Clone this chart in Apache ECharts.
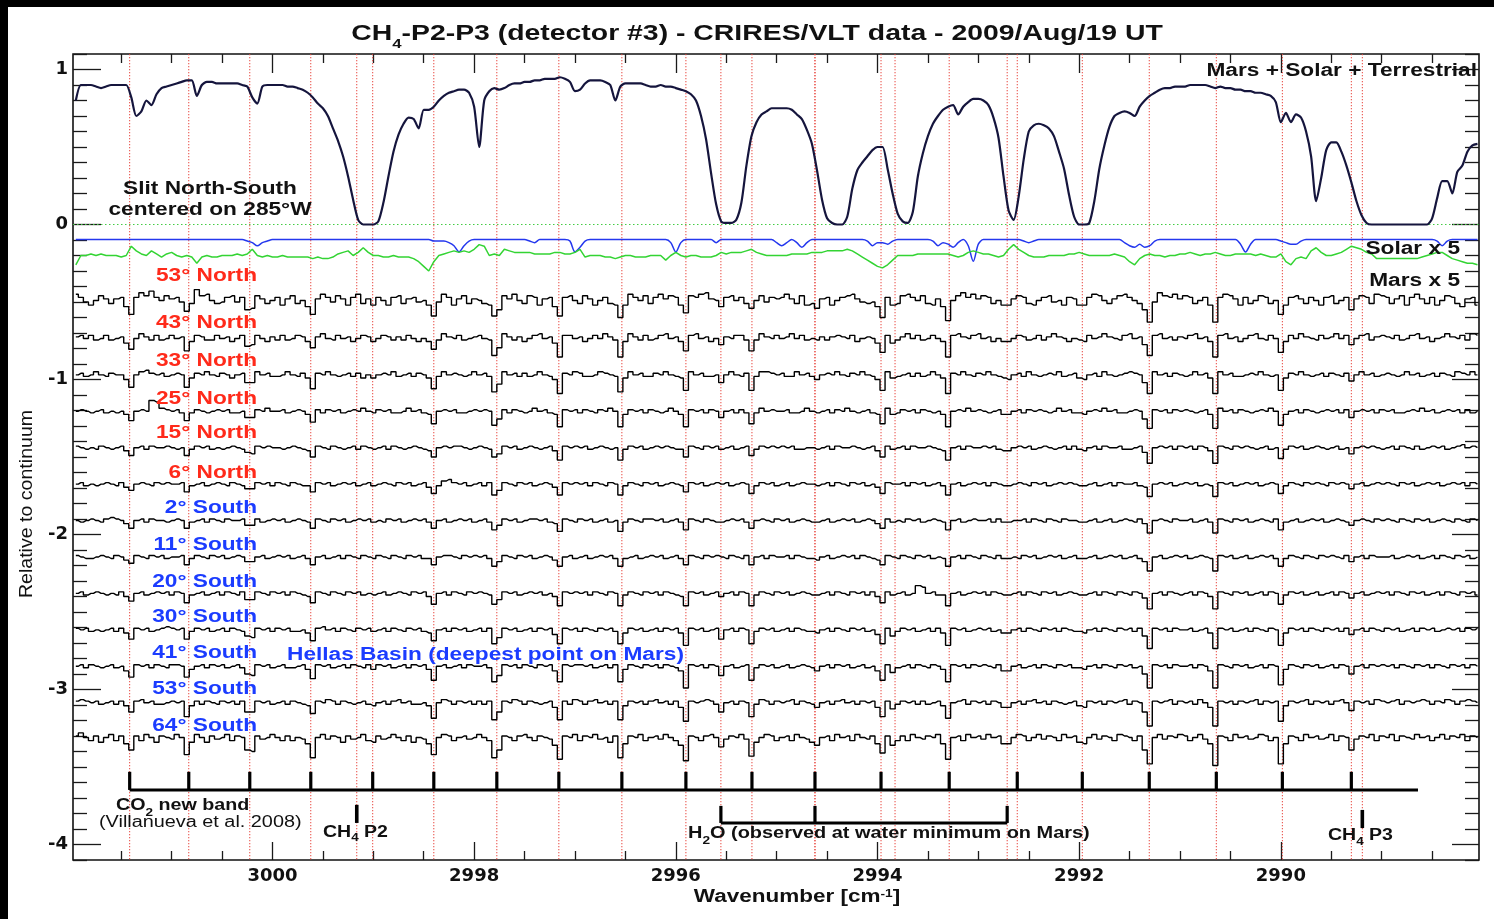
<!DOCTYPE html>
<html>
<head>
<meta charset="utf-8">
<title>CH4-P2-P3 (detector #3) - CRIRES/VLT data - 2009/Aug/19 UT</title>
<script src="https://cdn.jsdelivr.net/npm/echarts@6/dist/echarts.min.js"></script>
<style>
  html, body { margin: 0; padding: 0; background: #fff; }
  #chart { width: 1494px; height: 919px; }
</style>
</head>
<body>
<div id="chart"></div>
<script>
// ---------------------------------------------------------------------------
// Spectral sampling: spectra are binned on a 0.05 cm-1 grid, stored in rows
// of 20 bins (row r, column c  ->  bin 20*r + c, starting at WN_START).
// ---------------------------------------------------------------------------
const ROW = 20;
const WN_START = 3001.95;
const WN_STEP = 0.05;

// Axis extent and tick labels
const X_MIN = 2988.035, X_MAX = 3001.978;
const Y_MIN = -4.1, Y_MAX = 1.1;
const xTickLabels = [3000, 2998, 2996, 2994, 2992, 2990];
const yTickLabels = [1, 0, -1, -2, -3, -4];

// Mars + Solar + Terrestrial transmittance, percent of continuum
const telluricPct = [
  [80,90,90,90,89,88,89,90,90,90,90,82,70,73,80,77,84,88,89,90],
  [91,92,93,93,83,90,92,92,91,91,91,91,91,90,89,82,78,89,90,90],
  [90,90,89,89,88,87,85,82,78,75,70,62,54,44,31,16,3,0,0,0],
  [2,14,31,47,58,65,69,68,62,74,74,76,80,83,85,86,87,87,85,76],
  [50,80,86,88,87,88,90,91,91,92,92,93,93,94,94,94,95,94,92,86],
  [87,91,93,93,93,92,90,80,89,91,91,91,91,90,89,89,90,89,89,88],
  [87,86,84,80,70,55,33,13,2,1,1,3,14,38,57,66,71,73,75,75],
  [75,75,74,71,68,61,52,35,16,4,1,0,0,5,23,35,40,44,48,50],
  [50,36,20,7,2,1,8,31,46,57,65,70,74,76,77,71,76,79,81,81],
  [80,77,69,56,31,9,3,18,42,60,64,65,64,62,57,47,36,19,5,0],
  [0,1,15,36,51,63,70,72,73,72,70,76,80,83,85,87,88,88,89,89],
  [89,90,90,90,90,89,88,89,88,88,87,87,86,86,85,85,84,83,79,66],
  [72,66,71,69,60,44,15,30,48,53,53,47,38,27,15,6,1,0,0,0],
  [0,0,0,0,0,0,0,0,0,4,17,28,28,20,34,38,47,51,52]
];

// Solar spectrum x 5 (hundredths, relative to its own continuum)
const SOLAR_OFFSET = -0.097;
const solarX5 = [
  [0,0,0,0,0,0,0,0,0,0,0,0,0,0,0,0,0,0,0,0],
  [0,0,0,0,0,0,0,0,0,0,0,0,0,0,-1,-2,-4,-2,-1,0],
  [0,0,0,0,0,0,0,0,0,0,0,0,0,0,0,0,0,0,0,0],
  [0,0,0,0,0,0,0,0,0,0,0,-1,-1,-1,-2,-4,-8,-4,-1,0],
  [0,0,0,0,0,0,0,0,0,0,-1,-2,0,0,0,0,0,0,-1,-8],
  [-5,-1,0,0,0,0,0,0,0,0,0,0,0,0,0,0,0,0,-2,-8],
  [-2,0,0,0,0,0,0,-2,0,0,0,0,0,0,0,0,0,0,0,-2],
  [-4,-2,0,-2,-5,-2,0,0,0,0,0,0,0,0,0,0,0,-1,-4,-2],
  [-2,-3,-1,0,0,0,0,0,0,0,-1,-4,-2,-3,-5,-2,0,-4,-14,-3],
  [0,0,0,0,0,0,0,0,-1,-2,-1,0,0,0,0,0,0,0,0,0],
  [0,0,0,0,0,0,0,0,-2,-4,-5,-3,-5,-4,-1,0,0,0,0,0],
  [0,0,0,0,0,0,0,0,0,0,0,-3,-8,-3,0,0,0,0,0,-1],
  [-2,-3,-3,-1,0,0,0,0,0,0,0,0,0,0,0,0,0,0,0,0],
  [0,0,0,0,0,0,0,0,0,0,-1,-4,-1,0,0,0,0,0,0]
];

// Green reference trace (hundredths, relative to -0.20)
const GREEN_OFFSET = -0.20;
const greenTrace = [
  [-6,0,0,1,0,1,0,0,0,-1,0,6,3,1,0,3,1,-1,1,2],
  [0,-1,0,-1,-5,-1,0,-1,-1,0,0,0,1,0,1,4,0,-1,0,-1],
  [-1,0,-1,-1,-1,-1,-1,-2,-1,-2,-2,-1,1,2,3,0,2,5,2,0],
  [0,-1,-1,0,-1,-1,-1,-2,-4,-7,-10,-4,0,1,2,3,2,3,2,4],
  [7,6,0,1,0,4,3,2,2,2,2,1,1,1,1,2,2,1,1,2],
  [4,-1,0,0,0,-1,-1,-2,-1,0,0,-1,-1,-1,0,0,0,-3,0,2],
  [0,-1,0,0,-1,-1,-1,0,2,1,2,2,2,3,4,2,1,0,0,0],
  [0,0,1,1,1,1,2,2,2,3,3,3,3,4,3,1,-1,-3,-5,-7],
  [-8,-6,-3,0,0,0,0,1,1,1,1,1,1,1,0,-1,0,2,3,2],
  [1,1,0,-1,0,4,7,4,2,0,-1,-1,-1,0,0,0,0,1,1,2],
  [1,0,0,0,0,0,1,0,-1,-4,-6,-2,0,1,0,0,-1,0,0,1],
  [1,2,1,0,1,1,2,1,0,0,1,1,1,1,0,1,0,-1,-1,1],
  [-4,-6,-2,-1,-2,3,5,2,0,0,1,2,4,6,5,4,2,1,-2,-2],
  [-2,-2,-2,-2,-2,-2,-2,-1,0,1,2,2,0,-2,-3,-4,-5,-5,-6]
];

// Mars spectra x 5 along the slit (hundredths, relative to continuum)
const mars53N = [
  [4,2,-1,-3,0,3,1,-2,1,2,-4,-9,2,5,3,6,2,0,3,1],
  [2,-1,-7,-2,7,3,4,0,-2,-1,2,3,-1,2,-6,-5,3,1,-2,0],
  [2,-3,1,3,-2,0,-4,-9,1,4,2,-1,3,1,-3,2,4,-2,1,-3],
  [2,0,-3,2,3,-2,1,2,-1,0,-3,-10,-1,4,2,-3,1,3,-2,1],
  [0,-2,-3,-10,-6,3,1,4,0,-2,3,2,-3,1,2,-4,-10,2,3,0],
  [-2,3,1,-3,0,2,-2,-3,-11,-3,4,2,0,3,-2,2,4,1,3,2],
  [-3,-8,3,2,4,5,1,0,-4,2,3,0,2,-2,-5,0,3,-1,2,1],
  [2,4,1,-2,3,-3,-2,-5,1,2,-3,0,2,3,4,1,-1,-2,-1,-4],
  [-11,2,-3,-2,3,4,2,0,3,-2,-3,1,-4,-13,0,3,5,2,4,1],
  [3,2,-2,0,-3,-3,1,3,2,-2,-3,0,2,3,-1,0,-3,2,1,-3],
  [-3,2,4,3,0,-2,1,3,4,2,0,-2,-6,-14,-1,5,3,2,4,1],
  [3,2,-2,0,2,-3,-14,2,4,3,1,-3,2,-2,0,3,2,-2,0,-9],
  [-3,2,3,1,-2,2,0,-3,2,3,-2,0,2,-6,1,3,2,-2,4,3],
  [2,-2,1,3,-3,2,4,1,-2,2,-3,0,3,2,-2,-4,1,2,-3]
];
const mars43N = [
  [1,2,0,2,-1,0,2,-1,0,1,-3,-7,0,3,1,-1,2,-1,0,2],
  [0,1,-8,-2,2,1,-1,-1,2,0,1,-2,0,2,-5,-4,2,0,-2,1],
  [-1,2,-1,0,2,1,-2,-6,1,3,0,-1,2,0,1,-2,0,2,1,-2],
  [0,2,1,-1,1,-1,2,0,-2,0,-2,-7,-1,3,1,0,2,-1,0,1],
  [2,0,-1,-11,-6,3,1,-1,1,-2,0,2,3,0,1,-3,-12,2,2,0],
  [1,-2,0,2,0,3,1,-1,-12,-2,3,1,-1,2,-1,0,2,3,0,1],
  [-2,-8,2,3,0,1,-2,0,-4,1,0,2,2,-1,-8,-1,3,1,0,2],
  [0,1,3,0,2,-1,0,-1,1,-1,1,2,1,0,2,-2,0,1,0,-3],
  [-9,2,-3,-1,1,3,0,2,-1,0,2,0,-2,-12,2,3,1,0,2,3],
  [0,1,-2,0,-2,-2,0,2,1,-1,0,2,-1,1,3,1,0,-2,0,-1],
  [-2,2,0,1,3,1,0,-1,2,3,0,1,-4,-11,2,3,0,1,-1,1],
  [0,2,3,0,1,-2,-12,2,3,0,1,-2,0,2,3,0,-1,2,0,-9],
  [-2,2,0,3,1,0,-1,2,0,1,3,0,2,-4,0,2,3,-1,1,2],
  [1,0,2,-1,0,2,3,0,1,-2,0,1,3,1,0,2,-1,3,2]
];
const mars33N = [
  [0,1,-1,0,2,0,-1,1,0,0,-3,-8,0,2,3,1,0,1,-1,0],
  [1,0,-8,-2,1,0,2,0,-1,1,0,-2,0,1,-5,-5,2,0,1,-1],
  [-1,0,2,0,-1,1,-2,-9,1,0,2,0,-1,0,1,-1,1,-2,0,-2],
  [0,1,0,2,-1,0,1,-1,1,0,-2,-9,-1,2,0,1,0,-1,0,2],
  [0,1,-1,-11,-6,2,0,1,-1,1,-1,0,2,0,-1,-3,-12,1,0,2],
  [1,-1,-1,0,2,1,0,-1,-11,-2,2,0,1,-1,-1,1,0,2,0,-1],
  [-2,-10,2,0,1,-1,-1,0,-5,0,2,0,-1,1,-10,-1,2,2,1,0],
  [1,-1,-1,2,0,1,-1,-3,0,1,0,2,0,-1,1,0,2,0,-1,-3],
  [-10,2,-2,-1,0,1,-1,1,-1,0,2,0,-2,-12,1,0,2,0,-1,1],
  [0,2,0,-1,-2,-3,0,1,-1,2,0,-1,0,1,0,2,-1,0,1,-2],
  [-3,0,1,-1,2,0,-1,0,1,2,1,0,-5,-12,2,0,1,-1,1,0],
  [-1,0,2,0,1,-2,-12,2,0,1,-1,-1,0,1,0,2,0,-1,0,-10],
  [-2,1,0,2,0,-1,0,1,-1,1,0,-1,1,-4,0,2,0,1,-1,0],
  [1,0,-1,0,2,0,1,-1,0,1,-1,1,0,-1,2,1,0,2,0]
];
const mars25N = [
  [0,1,0,-1,0,1,-1,0,-1,0,-2,-6,0,1,0,7,6,2,1,0],
  [1,-1,-6,-1,1,0,-1,0,1,0,1,-1,-1,0,-4,-4,1,0,2,0],
  [0,1,-1,0,1,0,-2,-7,1,-1,1,0,1,-1,0,1,0,2,0,-1],
  [1,0,1,-1,-1,0,2,0,1,-1,-2,-8,0,1,0,1,-1,-1,0,1],
  [0,1,0,-9,-5,1,-1,1,0,-1,0,2,0,1,-1,-2,-10,1,0,1],
  [-1,1,0,-1,1,0,2,0,-10,-2,1,0,1,-1,1,0,-1,0,2,0],
  [-2,-10,1,0,1,-1,1,0,-4,0,1,-1,1,-1,-8,-1,2,0,1,0],
  [0,1,-1,-1,0,2,0,-1,0,1,-1,1,0,2,0,-1,0,1,-1,-2],
  [-8,2,-2,-1,1,0,1,-1,1,0,-1,0,-2,-10,0,1,0,2,0,1],
  [0,-1,0,1,-2,-2,0,1,-1,1,0,1,0,-1,0,2,0,1,-1,-1],
  [-2,0,1,0,2,0,1,-1,-1,0,1,0,-5,-11,1,0,1,-1,1,0],
  [1,0,-1,0,1,-2,-11,2,0,1,-1,1,0,-1,0,1,0,2,0,-9],
  [-2,0,1,-1,1,0,-1,0,1,0,1,-1,1,-4,0,1,0,1,-1,1],
  [0,1,-1,-1,0,1,0,2,0,1,-1,0,1,0,1,-1,1,-1,0]
];
const mars15N = [
  [1,0,-1,0,-1,1,0,-1,0,1,-2,-5,0,1,-1,1,0,0,1,0],
  [-1,0,-5,-1,1,0,1,-1,0,-1,0,1,0,-1,-3,-4,1,0,1,0],
  [0,-1,0,1,0,-1,-2,-6,1,0,-1,1,0,-1,0,1,-1,1,0,-1],
  [0,1,-1,1,0,-1,0,1,0,-1,-2,-6,0,1,0,1,1,0,-1,0],
  [1,0,-1,-6,-4,1,0,1,-1,0,1,0,-1,0,1,-2,-8,1,0,1],
  [0,1,-1,0,1,0,-1,0,-8,-1,1,0,1,-1,0,1,0,1,0,-1],
  [-1,-6,1,0,-1,1,0,1,-1,0,1,-1,0,1,-5,-1,1,0,1,0],
  [1,0,1,-1,-1,0,0,-1,0,1,-1,1,0,0,1,0,-1,0,1,-2],
  [-6,1,-1,0,1,-1,1,0,0,1,0,-1,-2,-8,0,1,-1,1,0,0],
  [1,0,1,-1,-2,-2,0,1,0,1,-1,0,1,0,-1,0,1,-1,1,-1],
  [-2,0,1,-1,1,0,0,1,-1,-1,0,1,-3,-10,0,1,0,1,-1,1],
  [0,1,-1,1,0,-2,-10,1,0,-1,1,0,1,0,-1,0,1,-1,0,-7],
  [-1,1,0,1,-1,0,1,0,-1,0,1,-1,0,-4,0,1,0,1,0,-1],
  [0,1,-1,1,0,-1,1,-1,0,1,0,1,-1,0,1,2,0,1,0]
];
const mars6N = [
  [0,1,-1,0,-1,0,1,0,-1,1,-2,-4,0,1,0,-1,1,0,1,0],
  [0,1,-5,-1,0,1,-1,0,1,0,-1,1,0,-1,-3,-3,1,0,1,-1],
  [1,0,-1,1,0,-1,-1,-5,1,0,1,-1,0,1,0,1,-1,0,1,-1],
  [0,1,0,-1,1,0,1,-1,0,1,-2,-6,-1,2,3,1,0,1,-1,0],
  [1,-1,1,-7,-4,1,0,-1,1,0,1,-1,0,1,0,-2,-7,1,0,1],
  [0,1,-1,1,0,-1,1,0,-7,-1,1,0,-1,1,0,1,-1,0,1,0],
  [-1,-5,1,0,1,-1,0,1,0,1,-1,0,1,0,-6,-1,1,0,1,-1],
  [0,1,-1,0,1,0,0,-1,0,1,-1,1,0,-1,1,0,1,-1,0,-2],
  [-6,1,0,0,1,-1,1,0,1,-1,0,1,-1,-7,0,1,-1,0,1,0],
  [1,-1,1,0,-1,-1,0,1,0,-1,1,0,1,-1,0,1,0,1,0,-1],
  [-1,0,1,-1,0,1,-1,1,0,0,1,-1,-2,-8,0,1,0,1,-1,0],
  [1,0,1,-1,0,-1,-8,1,0,1,-1,0,1,0,1,-1,0,1,0,-6],
  [-1,1,0,-1,1,0,1,0,-1,1,0,1,0,-3,0,1,-1,0,1,0],
  [1,0,-1,1,0,1,-1,0,1,0,1,-1,0,1,0,1,-1,1,0]
];
const mars2S = [
  [0,-1,0,1,0,-1,1,2,1,0,-2,-5,0,1,-1,1,0,0,-1,0],
  [1,0,-5,-1,0,1,-1,1,0,-1,1,0,0,1,-3,-3,1,-1,0,1],
  [0,1,-1,0,1,0,-1,-5,1,0,-1,1,0,1,-1,0,1,0,1,-1],
  [0,-1,1,0,1,-1,0,1,0,1,-1,-5,0,1,-1,0,1,0,1,-1],
  [0,1,-1,-6,-3,1,0,1,-1,0,1,1,0,1,-1,-2,-7,1,0,-1],
  [1,0,1,-1,0,1,-1,0,-7,-1,1,0,-1,1,1,0,1,-1,0,1],
  [-1,-6,1,0,-1,1,0,-1,-1,0,1,0,1,-1,-5,0,1,0,-1,1],
  [0,1,-1,0,1,0,-1,-1,0,1,-1,0,1,0,1,-1,0,1,0,-2],
  [-5,1,-1,0,-1,1,0,1,-1,0,1,0,-1,-6,0,1,-1,0,1,0],
  [0,1,-1,1,-1,-1,0,0,1,-1,1,0,-1,1,0,-1,1,0,0,-1],
  [-1,0,1,-1,0,1,-1,0,1,0,-1,1,-2,-8,0,1,0,-1,1,0],
  [0,1,-1,0,1,-1,-8,1,0,-1,1,0,1,-1,0,1,0,-1,1,-6],
  [-1,0,1,-1,0,1,0,1,-1,0,1,0,-1,-3,0,1,0,-1,1,0],
  [1,0,-1,1,0,-1,1,0,1,-1,0,1,0,-1,1,0,-1,1,0]
];
const mars11S = [
  [1,0,-1,-1,0,1,0,-1,1,0,-2,-4,1,0,-1,1,0,1,-1,0],
  [0,1,-5,-1,1,0,-1,1,0,1,-1,0,1,0,-3,-3,0,1,-1,0],
  [1,0,1,-1,0,1,-1,-5,0,1,-1,0,1,-1,1,0,-1,1,0,-1],
  [1,0,-1,1,0,-1,1,0,1,-1,-1,-5,0,1,1,0,-1,1,0,1],
  [0,1,-1,-6,-3,1,0,-1,1,0,1,-1,0,1,0,-2,-6,0,1,-1],
  [0,1,-1,0,1,0,1,-1,-6,-1,0,1,-1,0,1,0,1,-1,0,1],
  [-1,-5,1,0,-1,1,0,1,0,-1,1,0,-1,1,-5,0,1,-1,1,0],
  [0,1,-1,1,0,-1,-1,-2,0,1,-1,0,1,0,1,-1,1,0,-1,-2],
  [-5,1,0,-1,1,0,-1,1,0,1,-1,0,-1,-6,0,1,-1,1,0,-1],
  [1,0,-1,1,-1,-1,0,-1,1,0,1,-1,0,1,0,1,-1,0,1,-1],
  [-1,0,1,-1,0,1,0,1,-1,0,1,-1,-3,-9,0,1,-1,0,1,0],
  [1,-1,0,1,0,-1,-9,1,0,1,-1,0,1,-1,0,1,0,1,-1,-6],
  [-1,1,0,-1,1,0,-1,1,0,1,0,-1,1,-3,0,1,-1,1,0,0],
  [0,1,-1,0,1,0,1,-1,0,1,-1,1,0,-1,1,0,1,-1,0]
];
const mars20S = [
  [0,1,-1,0,1,0,-1,0,-1,1,-2,-5,0,1,-1,0,1,0,1,-1],
  [1,0,-6,-1,0,1,-1,0,1,-1,1,0,-1,1,-4,-4,1,0,-1,1],
  [0,1,-1,1,0,-1,-2,-6,1,0,-1,1,0,-1,1,0,1,-1,0,-1],
  [0,1,-1,0,1,0,-1,1,0,1,-2,-7,0,1,-1,1,0,-1,1,0],
  [1,0,-1,-7,-4,1,0,1,-1,0,1,0,1,-1,0,-2,-8,1,0,1],
  [0,1,-1,1,0,-1,1,0,-8,-1,1,0,-1,1,0,1,-1,1,0,-1],
  [-2,-8,1,0,1,-1,0,1,-2,0,1,-1,1,0,-8,-1,1,0,-1,1],
  [0,1,-1,0,1,0,-1,-1,0,1,-1,1,0,-1,1,0,1,-1,1,-2],
  [-6,1,-1,0,1,-1,0,5,4,0,1,-1,-1,-8,0,1,-1,0,1,0],
  [1,-1,1,0,-1,-1,0,1,-1,1,0,-1,1,0,1,-1,0,1,0,-1],
  [-1,0,1,-1,1,0,-1,1,0,-1,1,0,-3,-10,0,1,-1,1,0,-1],
  [0,1,-1,1,0,-2,-10,1,0,-1,1,0,1,-1,0,1,-1,1,0,-7],
  [-1,1,0,1,-1,0,1,-1,0,1,-1,1,0,-3,0,1,-1,0,1,0],
  [1,-1,1,0,-1,1,0,1,-1,0,1,-1,1,0,-1,1,0,1,-1]
];
const mars30S = [
  [1,0,1,-1,0,-1,0,1,-1,1,-2,-6,1,0,1,-1,0,1,2,1],
  [0,1,-6,-1,1,0,1,-1,0,1,-1,1,0,-1,-4,-5,1,0,1,-1],
  [1,0,1,-1,-1,0,-2,-7,1,2,0,1,-1,1,0,-1,1,0,1,-1],
  [0,1,-1,1,0,-1,1,0,1,-1,-2,-7,0,1,-1,1,0,1,-1,0],
  [1,-1,1,-9,-5,1,0,1,-1,0,1,-1,1,0,1,-3,-9,1,0,1],
  [-1,1,0,-1,1,0,1,-1,-9,-2,1,0,1,-1,0,1,-1,1,0,1],
  [-2,-10,1,0,1,-1,0,1,-6,0,1,-1,1,0,-9,-1,1,0,1,-1],
  [0,1,-1,1,0,-1,-1,-2,0,1,-1,1,0,-1,1,0,1,-1,0,-3],
  [-9,1,-4,-1,1,0,1,-1,0,1,-1,1,-2,-10,1,0,1,-1,0,1],
  [0,1,-1,0,-2,-2,0,1,-1,1,0,-1,1,0,1,-1,1,0,-1,-1],
  [-2,0,1,-1,1,0,-1,1,0,1,-1,1,-4,-12,1,0,1,-1,1,0],
  [0,1,-1,0,1,-2,-12,1,0,1,-1,0,1,-1,1,0,-1,1,0,-10],
  [-2,1,0,1,-1,1,0,-1,1,0,1,-1,1,-3,0,1,-1,1,0,-1],
  [1,0,1,-1,0,1,-1,1,0,1,-1,0,1,0,1,-1,1,0,1]
];
const mars41S = [
  [0,1,-1,1,0,-1,0,1,-1,0,-3,-7,1,0,1,-1,1,0,-1,1],
  [1,0,-7,-2,0,1,-1,1,0,1,-1,0,1,-1,-5,-6,1,0,1,-1],
  [0,1,-1,-1,0,1,-2,-8,1,0,1,-1,0,1,-1,1,0,-1,1,-2],
  [1,0,1,-1,0,1,-1,1,0,1,-2,-9,0,1,-1,0,1,-1,1,0],
  [0,1,-1,-10,-6,1,0,1,-1,1,0,-1,1,0,1,-3,-10,1,0,1],
  [1,0,1,-1,0,1,-1,1,-10,-2,1,0,-1,1,0,1,-1,1,0,-1],
  [-3,-14,1,0,1,-1,1,0,-6,0,1,-1,0,1,-9,-1,1,0,1,-1],
  [0,1,-1,0,1,0,-1,-3,0,1,-1,1,0,1,-1,0,1,-1,0,-3],
  [-9,1,-4,-1,0,1,-1,1,0,-1,1,0,-2,-10,1,0,1,-1,1,0],
  [1,0,-1,1,-3,-3,0,1,-1,0,1,-1,1,0,-1,1,0,1,-1,-1],
  [-2,0,1,-1,1,0,-1,1,0,1,-1,0,-5,-14,1,0,1,-1,1,0],
  [0,1,-1,1,0,-3,-14,1,0,-1,1,0,1,-1,0,1,-1,1,0,-12],
  [-2,1,0,-1,1,0,1,-1,0,1,-1,1,0,-5,0,1,-1,1,0,1],
  [0,1,-1,1,0,-1,1,0,1,-1,1,0,-1,1,0,1,-1,1,0]
];
const mars53S = [
  [1,2,1,0,1,-1,0,1,-1,1,-2,-6,1,2,0,1,-1,-1,0,1],
  [0,1,-9,-2,1,-1,1,0,-1,1,0,1,-1,1,-6,-6,1,0,1,-1],
  [0,1,-1,1,0,-1,-2,-7,1,0,2,1,-1,1,0,-1,0,1,-1,-2],
  [0,1,-1,1,2,0,1,-1,-1,0,-2,-10,0,2,1,-1,1,0,1,-1],
  [1,-1,1,-11,-6,1,0,2,1,-1,1,0,-1,0,1,-3,-11,1,-1,2],
  [1,-1,1,2,0,1,-1,1,-11,-2,1,0,1,-1,1,2,0,1,-1,1],
  [-3,-12,1,0,1,2,1,-1,-6,0,1,-1,1,0,-9,-1,2,1,-1,1],
  [0,1,2,-1,1,0,-1,-3,0,1,-1,1,2,0,1,-1,1,0,1,-3],
  [-9,1,-4,-1,1,0,1,-1,1,-1,0,1,-2,-10,0,1,2,-1,1,0],
  [1,-1,1,0,-3,-3,0,1,-1,1,2,0,1,-1,1,0,-1,0,1,-2],
  [-3,1,0,1,-1,1,0,1,2,-1,1,0,-6,-15,1,0,1,2,-1,1],
  [0,1,-1,2,0,-3,-15,1,0,1,-1,1,0,1,2,-1,1,0,1,-12],
  [-2,1,0,1,2,-1,1,0,1,-1,1,2,0,-5,1,0,1,-1,2,1],
  [0,1,2,-1,1,0,1,2,1,-1,1,0,2,1,-1,1,2,1,0]
];
const mars64S = [
  [2,4,1,-1,2,-2,1,3,-1,2,-3,-7,2,-1,3,1,-2,2,1,0],
  [3,1,-10,-2,3,1,-2,2,0,1,3,-1,2,1,-7,-8,2,0,1,3],
  [1,-1,2,-1,1,0,-3,-12,1,3,0,2,1,-2,2,0,1,3,-1,-2],
  [2,0,1,3,1,-1,2,-2,1,0,-3,-10,1,3,2,-1,1,2,0,1],
  [3,1,-1,-12,-7,2,1,-1,2,3,1,-1,2,1,0,-4,-13,2,1,3],
  [-1,2,1,3,0,1,-2,2,-12,-3,2,1,3,-1,1,2,0,3,1,-1],
  [-4,-14,2,1,-1,2,3,1,-5,0,2,1,3,0,-11,-2,1,3,2,-1],
  [1,2,-1,3,1,0,-2,-4,1,2,-1,3,1,2,-1,3,1,0,2,-3],
  [-9,2,-4,-1,2,-1,3,1,0,2,1,3,-3,-13,1,2,-1,3,1,2],
  [0,3,1,2,-3,-3,1,3,2,-1,1,3,0,2,1,-1,3,1,2,-2],
  [-3,1,3,0,2,1,-1,3,2,1,-1,2,-7,-16,1,3,0,2,1,3],
  [2,-1,1,3,0,-3,-17,2,1,-1,3,1,2,0,1,3,2,-1,1,-16],
  [-3,2,1,-1,3,1,2,0,1,3,-1,2,1,-7,0,2,1,3,-1,2],
  [1,3,-1,2,1,0,3,1,2,-1,1,3,0,2,1,3,-1,2,1]
];

const marsTraces = [mars53N, mars43N, mars33N, mars25N, mars15N, mars6N,
  mars2S, mars11S, mars20S, mars30S, mars41S, mars53S, mars64S];
const marsOffsets = [-0.49, -0.735, -0.97, -1.205, -1.44, -1.675,
  -1.91, -2.145, -2.38, -2.615, -2.85, -3.085, -3.32];
const latitudeNames = ['53° North', '43° North', '33° North', '25° North', '15° North', '6° North',
  '2° South', '11° South', '20° South', '30° South', '41° South', '53° South', '64° South'];

// Line positions (cm-1)
const co2Lines = [3001.416, 3000.830, 3000.225, 2999.620, 2999.006, 2998.400, 2997.775,
  2997.160, 2996.535, 2995.900, 2995.245, 2994.620, 2993.965, 2993.289, 2992.614,
  2991.969, 2991.305, 2990.640, 2989.985, 2989.301];
const h2oLines = [2995.553, 2994.620, 2992.714];
const ch4Lines = [2999.164, 2989.192];
const otherLines = [2993.826];

// ---------------------------------------------------------------------------
// Layout of the annotations (pixels / axis units)
// ---------------------------------------------------------------------------
const FONT = '"Liberation Sans", Arial, Helvetica, sans-serif';
const RED = '#ff2a1a', BLUE = '#1b3cff';
const labelY = [276, 323, 361, 399, 433, 473, 508, 545, 582, 617, 653, 689, 726];

const CO2_COMB = { base: -3.648, top: -3.531, end: 2988.64 };
const H2O_COMB = { base: -3.861, top: -3.751 };
const CH4_MARKS = [{ low: -3.861, high: -3.744 }, { low: -3.894, high: -3.777 }];

function toSeriesData(rows, offset, unit) {
  const out = [];
  rows.forEach((row, r) => row.forEach((v, c) => {
    const i = r * ROW + c;
    out.push([Math.round((WN_START - i * WN_STEP) * 1000) / 1000, offset + v * unit]);
  }));
  return out;
}

// Minor tick positions
const xMinor = [];
for (let k = 5977; k <= 6003; k++) { const v = k / 2; if (v % 2 !== 0) xMinor.push(v); }
const yMinor = [];
for (let k = -41; k <= 11; k++) { if (k % 10 !== 0) yMinor.push(k / 10); }

const tickLine = { color: '#1a1a1a', width: 1.3 };
const tickFont = { fontFamily: '"DejaVu Sans", sans-serif', fontWeight: 'bold', fontSize: 18, color: '#111',
                   formatter: v => String(v) };

function xAxisDef(position, values, length, withLabels) {
  return {
    type: 'value', min: X_MIN, max: X_MAX, inverse: true, position,
    axisLine: { show: false, onZero: false }, splitLine: { show: false },
    axisTick: { inside: true, length, customValues: values, lineStyle: tickLine },
    axisLabel: withLabels ? Object.assign({ customValues: values, margin: 7 }, tickFont) : { show: false }
  };
}
function yAxisDef(position, values, length, withLabels) {
  return {
    type: 'value', min: Y_MIN, max: Y_MAX, position,
    axisLine: { show: false, onZero: false }, splitLine: { show: false },
    axisTick: { inside: true, length, customValues: values, lineStyle: tickLine },
    axisLabel: withLabels ? Object.assign({ customValues: values, margin: 5 }, tickFont) : { show: false }
  };
}

// Vertical tick marks (comb teeth and CH4 markers)
function markSeries(items, width) {
  return {
    type: 'custom', silent: true, z: 6,
    renderItem: (params, api) => {
      const a = api.coord([api.value(0), api.value(1)]);
      const b = api.coord([api.value(0), api.value(2)]);
      return { type: 'line', shape: { x1: a[0], y1: a[1], x2: b[0], y2: b[1] },
               style: { stroke: '#000', lineWidth: width, lineCap: 'butt' } };
    },
    data: items
  };
}

const series = [];

// Red dotted guides at each line position
const guideLines = co2Lines.concat(h2oLines, ch4Lines, otherLines);
series.push({
  type: 'custom', silent: true, z: 1,
  renderItem: (params, api) => {
    const a = api.coord([api.value(0), Y_MAX]);
    const b = api.coord([api.value(0), Y_MIN]);
    return { type: 'line', shape: { x1: a[0], y1: a[1], x2: b[0], y2: b[1] },
             style: { stroke: '#e8473f', lineWidth: 1, lineDash: [1.3, 1.7] } };
  },
  data: guideLines.map(w => [w, 0])
});

// Zero level
series.push({
  type: 'line', silent: true, z: 1, symbol: 'none',
  lineStyle: { color: '#45cc45', width: 1, type: [1.5, 2.5] },
  data: [[X_MAX, 0], [X_MIN, 0]]
});

// Transmittance
series.push({
  name: 'Mars + Solar + Terrestrial', type: 'line', symbol: 'none', z: 4, smooth: 0.25,
  lineStyle: { color: '#15153d', width: 2.2 },
  data: toSeriesData(telluricPct, 0, 0.01)
});

// Solar x 5
series.push({
  name: 'Solar x 5', type: 'line', symbol: 'none', z: 3, smooth: 0.3,
  lineStyle: { color: '#2437ee', width: 1.5 },
  data: toSeriesData(solarX5, SOLAR_OFFSET, 0.01)
});

// Green trace
series.push({
  type: 'line', symbol: 'none', z: 3,
  lineStyle: { color: '#33d433', width: 1.5 },
  data: toSeriesData(greenTrace, GREEN_OFFSET, 0.01)
});

// Mars x 5 along the slit
marsTraces.forEach((rows, k) => {
  series.push({
    name: latitudeNames[k], type: 'line', symbol: 'none', step: 'middle', z: 3,
    lineStyle: { color: '#000', width: 1.4 },
    data: toSeriesData(rows, marsOffsets[k], 0.01)
  });
});

// CO2 new band comb
series.push({
  type: 'line', symbol: 'none', silent: true, z: 6,
  lineStyle: { color: '#000', width: 3 },
  data: [[co2Lines[0], CO2_COMB.base], [CO2_COMB.end, CO2_COMB.base]]
});
series.push(markSeries(co2Lines.map(w => [w, CO2_COMB.base, CO2_COMB.top]), 3.2));

// H2O comb
series.push({
  type: 'line', symbol: 'none', silent: true, z: 6,
  lineStyle: { color: '#000', width: 3 },
  data: [[h2oLines[0], H2O_COMB.base], [h2oLines[h2oLines.length - 1], H2O_COMB.base]]
});
series.push(markSeries(h2oLines.map(w => [w, H2O_COMB.base, H2O_COMB.top]), 3.2));

// CH4 P2 / P3 markers
series.push(markSeries(ch4Lines.map((w, k) => [w, CH4_MARKS[k].low, CH4_MARKS[k].high]), 3.6));

// ---------------------------------------------------------------------------
// Text
// ---------------------------------------------------------------------------
function text(x, y, str, o) {
  o = o || {};
  return {
    type: 'text', x, y, silent: true, z: 100,
    scaleX: o.sx || 1.26, rotation: o.rot || 0,
    style: {
      text: str, fill: o.color || '#111', fontFamily: FONT,
      fontWeight: o.weight || 'bold', fontSize: o.size || 18,
      align: o.align || 'left', verticalAlign: 'middle', rich: o.rich
    }
  };
}
const sub = (size, lh) => ({ fontFamily: FONT, fontWeight: 'bold', fontSize: size, lineHeight: lh, verticalAlign: 'bottom' });

const graphics = [
  { type: 'rect', shape: { x: 0, y: 0, width: 1494, height: 7 }, style: { fill: '#000' }, silent: true },
  { type: 'rect', shape: { x: 0, y: 0, width: 8, height: 919 }, style: { fill: '#000' }, silent: true },
  text(757, 34, 'CH{s|4}-P2-P3 (detector #3) - CRIRES/VLT data - 2009/Aug/19 UT',
       { align: 'center', size: 22, sx: 1.29, rich: { s: sub(13, 34) } }),
  text(210, 189, 'Slit North-South', { align: 'center' }),
  text(210, 210, 'centered on 285°W', { align: 'center' }),
  text(1477, 71, 'Mars + Solar + Terrestrial', { align: 'right' }),
  text(1460, 249, 'Solar x 5', { align: 'right' }),
  text(1460, 281, 'Mars x 5', { align: 'right' }),
  text(287, 655, 'Hellas Basin (deepest point on Mars)', { color: BLUE }),
  text(116, 806, 'CO{s|2} new band', { size: 16, sx: 1.23, rich: { s: sub(11, 24) } }),
  text(99, 822.5, '(Villanueva et al. 2008)', { size: 16, sx: 1.24, weight: 'normal' }),
  text(323, 832.5, 'CH{s|4} P2', { size: 16, sx: 1.22, rich: { s: sub(11, 21) } }),
  text(688, 834, 'H{s|2}O (observed at water minimum on Mars)', { size: 16, sx: 1.245, rich: { s: sub(11, 24) } }),
  text(1328, 836, 'CH{s|4} P3', { size: 16, sx: 1.22, rich: { s: sub(11, 22) } }),
  text(797, 897.5, 'Wavenumber [cm{p|-1}]', { align: 'center', sx: 1.25,
       rich: { p: { fontFamily: FONT, fontWeight: 'bold', fontSize: 11, verticalAlign: 'top' } } }),
  text(27, 504, 'Relative to continuum', { align: 'center', size: 19, sx: 1.03, weight: 'normal', rot: Math.PI / 2 })
];
latitudeNames.forEach((name, k) => {
  graphics.push(text(257, labelY[k], name, { align: 'right', color: name.indexOf('North') >= 0 ? RED : BLUE }));
});

const chart = echarts.init(document.getElementById('chart'), null, { renderer: 'canvas' });
chart.setOption({
  animation: false,
  backgroundColor: '#fff',
  grid: { left: 73, right: 15, top: 54, bottom: 59, containLabel: false, outerBoundsMode: 'none',
          show: true, borderColor: '#111', borderWidth: 1.6 },
  xAxis: [
    xAxisDef('bottom', xTickLabels, 18, true),
    xAxisDef('bottom', xMinor, 9, false),
    xAxisDef('top', xTickLabels, 19, false),
    xAxisDef('top', xMinor, 9, false)
  ],
  yAxis: [
    yAxisDef('left', yTickLabels, 28, true),
    yAxisDef('left', yMinor, 14, false),
    yAxisDef('right', yTickLabels, 27, false),
    yAxisDef('right', yMinor, 14, false)
  ],
  series,
  graphic: graphics
});
</script>
</body>
</html>
